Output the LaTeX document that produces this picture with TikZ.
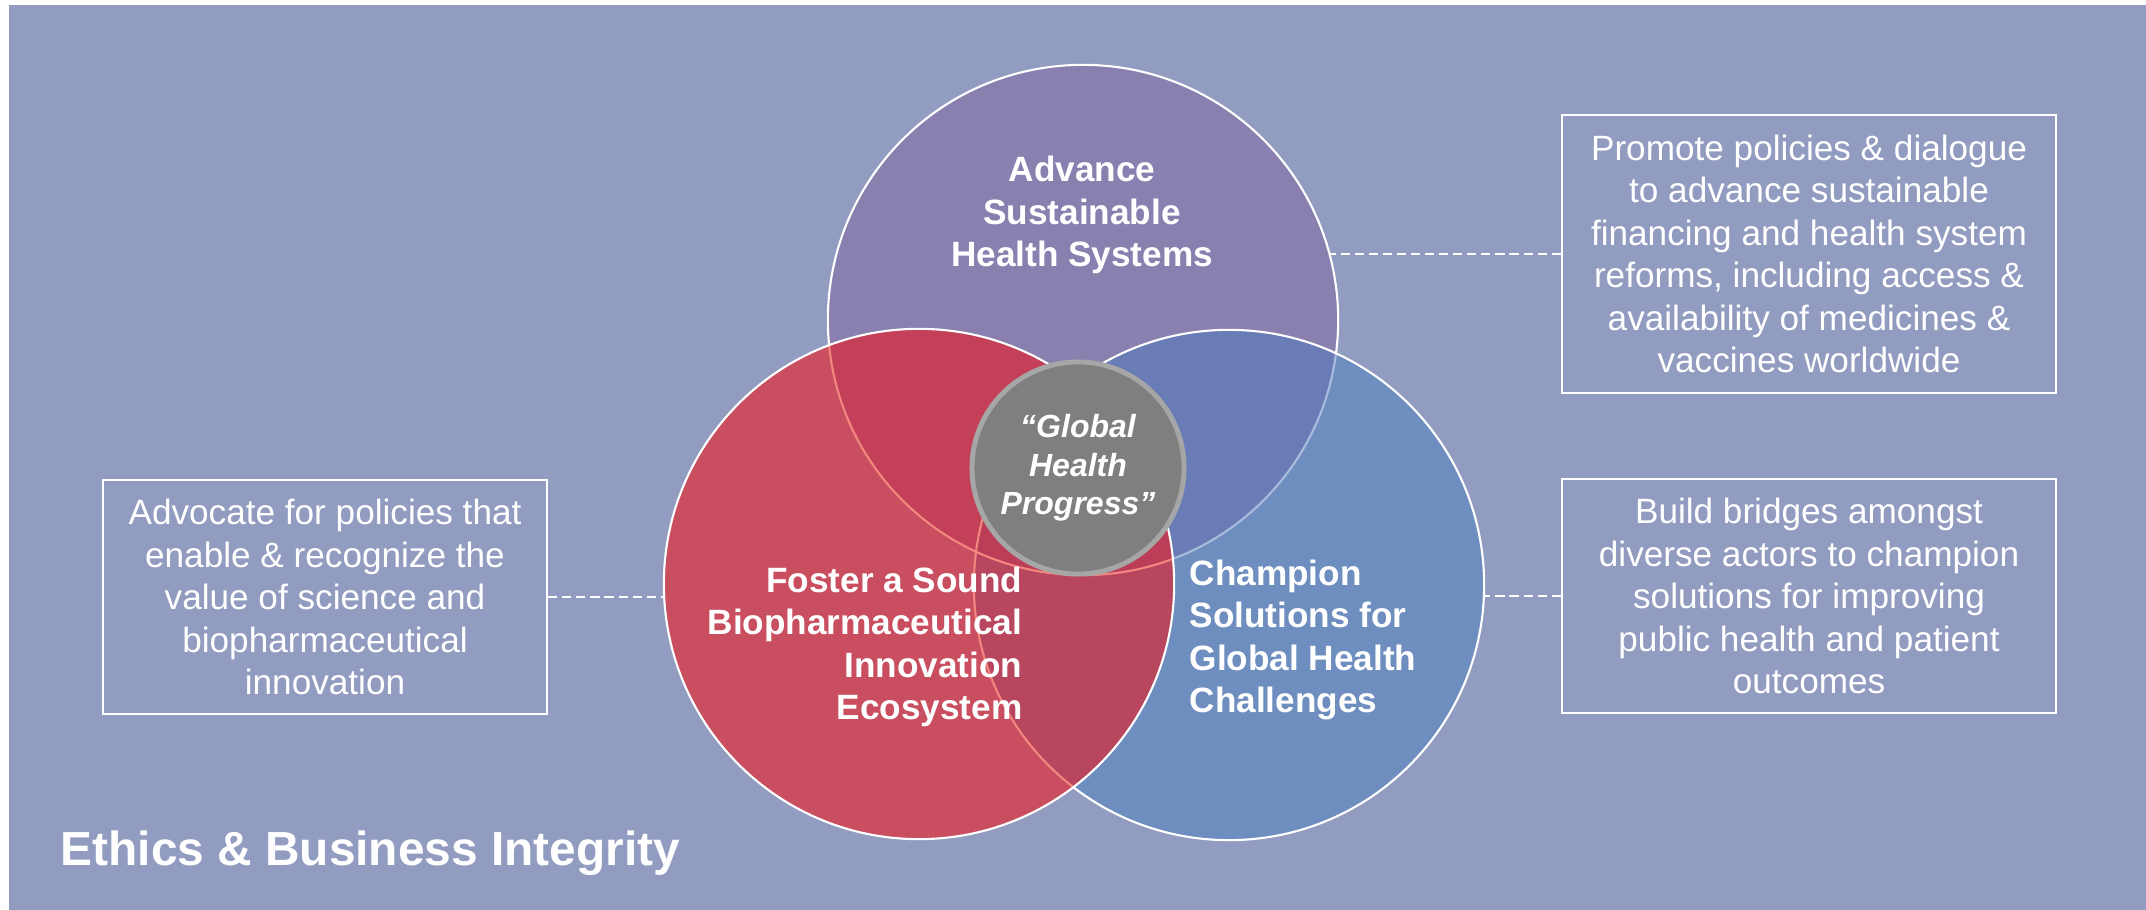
\documentclass[tikz,border=0pt]{standalone}
\usepackage{fontspec}
\setmainfont{Liberation Sans}
\usepackage{xcolor}
\usepackage{tikz}

\definecolor{cfond}{HTML}{929CC0}
\definecolor{cviolet}{HTML}{8A80B0}
\definecolor{crouge}{HTML}{C94F60}
\definecolor{cbleu}{HTML}{6F8EC0}
\definecolor{crougeviolet}{HTML}{C34058}
\definecolor{cbleuviolet}{HTML}{6A7CB5}
\definecolor{crougebleu}{HTML}{B8465E}
\definecolor{ctrois}{HTML}{BC3D57}
\definecolor{csaumon}{HTML}{F2877F}
\definecolor{cbleuclair}{HTML}{A9BCDD}
\definecolor{cgris}{HTML}{7F7F7F}
\definecolor{cgrisbord}{HTML}{A6A6A6}

\tikzstyle{cercle} = [circle, minimum size=5.1cm, inner sep=0pt]
\tikzstyle{boite} = [rectangle, 
draw=white, 
line width=0.6pt,
text=white,
align=center,
inner sep=0pt,
font=\fontsize{10}{12.1}\selectfont]
\tikzstyle{etiquette} = [text=white, inner sep=0pt, font=\fontsize{10}{12.1}\selectfont\bfseries]
\tikzstyle{lien} = [white, line width=0.45pt, dash pattern=on 2.6pt off 1.4pt]
\tikzstyle{bord} = [line width=0.6pt]

\begin{document}
\begin{tikzpicture}[x=0.01cm, y=-0.01cm]

\useasboundingbox (0,0) rectangle (2146,910);
% Fond
\fill[cfond] (9,5) rectangle (2146,910);

% Les trois cercles (noeuds vides pour les ancres)
\node[cercle] (violet) at (1083,320) {};
\node[cercle] (rouge) at (919,584) {};
\node[cercle] (bleu) at (1229,585) {};

% Cercle violet
\fill[cviolet] (violet.center) circle (2.55cm);
\draw[bord, white] (violet.center) circle (2.55cm);

% Cercle bleu
\fill[cbleu] (bleu.center) circle (2.55cm);
\begin{scope}
\clip (bleu.center) circle (2.55cm);
\fill[cbleuviolet] (violet.center) circle (2.55cm);
\draw[bord, cbleuclair] (violet.center) circle (2.55cm);
\end{scope}
\draw[bord, white] (bleu.center) circle (2.55cm);

% Cercle rouge
\fill[crouge] (rouge.center) circle (2.55cm);
\begin{scope}
\clip (rouge.center) circle (2.55cm);
\fill[crougeviolet] (violet.center) circle (2.55cm);
\fill[crougebleu] (bleu.center) circle (2.55cm);
\begin{scope}
\clip (violet.center) circle (2.55cm);
\fill[ctrois] (bleu.center) circle (2.55cm);
\end{scope}
\draw[bord, csaumon] (violet.center) circle (2.55cm);
\draw[bord, csaumon] (bleu.center) circle (2.55cm);
\end{scope}
\draw[bord, white] (rouge.center) circle (2.55cm);

% Cercle central
\node[circle, fill=cgris, draw=cgrisbord, line width=1.4pt, minimum size=2.12cm,
  inner sep=0pt, text=white, align=center,
  font=\fontsize{9.1}{10.9}\selectfont\bfseries\itshape] (centre) at (1078,468)
  {“Global\\Health\\Progress”};

% Textes des cercles
\node[etiquette, align=center] (txtViolet) at (1082,215) {Advance\\Sustainable\\Health Systems};
\node[etiquette, align=right, anchor=east] (txtRouge) at (1023,647) {Foster a Sound\\Biopharmaceutical\\Innovation\\Ecosystem};
\node[etiquette, align=left, anchor=west] (txtBleu) at (1189,640) {Champion\\Solutions for\\Global Health\\Challenges};

% Boites de texte
\node[boite, minimum width=4.94cm, minimum height=2.78cm] (boiteHaut) at (1809,254)
  {Promote policies \& dialogue\\to advance sustainable\\financing and health system\\reforms, including access \&\\availability of medicines \&\\vaccines worldwide};
\node[boite, minimum width=4.94cm, minimum height=2.34cm] (boiteBas) at (1809,596)
  {Build bridges amongst\\diverse actors to champion\\solutions for improving\\public health and patient\\outcomes};
\node[boite, minimum width=4.44cm, minimum height=2.34cm] (boiteGauche) at (325,597)
  {Advocate for policies that\\enable \& recognize the\\value of science and\\biopharmaceutical\\innovation};

% Liens en pointilles
\draw[lien] (boiteHaut.west) -- (boiteHaut.west -| violet.15);
\draw[lien] (boiteBas.west) -- (boiteBas.west -| bleu.east);
\draw[lien] (boiteGauche.east) -- (boiteGauche.east -| rouge.west);

% Titre
\node[anchor=base west, text=white, inner sep=0pt, font=\fontsize{13.6}{16}\selectfont\bfseries] (titre) at (60,865) {Ethics \& Business Integrity};

\end{tikzpicture}
\end{document}
